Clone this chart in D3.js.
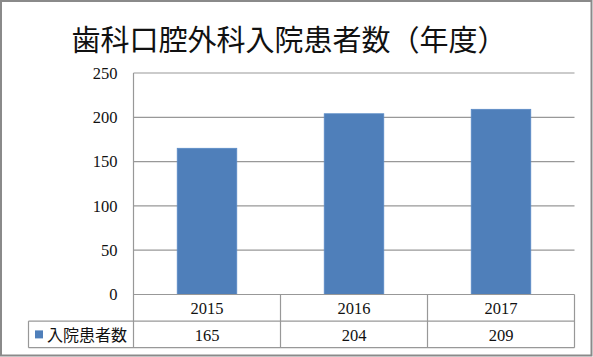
<!DOCTYPE html>
<html><head><meta charset="utf-8">
<script src="https://cdn.jsdelivr.net/npm/d3@7"></script>
<style>html,body{margin:0;padding:0;background:#fff;}svg{display:block;}
.serif{font-family:"Liberation Serif","Times New Roman","DejaVu Serif",serif;}
.sans{font-family:"Noto Sans CJK JP","Noto Sans",sans-serif;}
</style>
</head><body>
<svg id="chart" width="593" height="357"></svg>
<script>
const title = "歯科口腔外科入院患者数（年度）";
const categories = ["2015", "2016", "2017"];
const seriesName = "入院患者数";
const values = [165, 204, 209];
const yTicks = [0, 50, 100, 150, 200, 250];

const svg = d3.select("#chart");
const W = 593, H = 357;
const plot = {left: 133.5, right: 574.5, top: 73, bottom: 294.5};
const rowH = 26.6;
const tableLeft = 28.5;
const gridColor = "#989898";
const serifFam = '"Liberation Serif","Times New Roman","DejaVu Serif",serif';

svg.append("rect").attr("x", 0).attr("y", 0).attr("width", W).attr("height", H).attr("fill", "#fff");
svg.append("rect").attr("x", 1).attr("y", 1).attr("width", 590.5).attr("height", 354.5)
  .attr("fill", "none").attr("stroke", "#8a8a8a").attr("stroke-width", 2);

svg.append("text").attr("class", "sans").attr("x", 289).attr("y", 38).attr("text-anchor", "middle")
  .attr("dominant-baseline", "central").style("font-size", "29px")
  .attr("fill", "#111").text(title);

const x = d3.scaleBand().domain(categories).range([plot.left, plot.right]).padding(0);
const y = d3.scaleLinear().domain([0, 250]).range([plot.bottom, plot.top]);

// gridlines
svg.append("g").selectAll("line").data(yTicks.filter(t => t > 0)).join("line")
  .attr("x1", plot.left).attr("x2", plot.right)
  .attr("y1", d => y(d)).attr("y2", d => y(d))
  .attr("stroke", gridColor).attr("stroke-width", 1.2);

// y axis labels
const yAxis = d3.axisLeft(y).tickValues(yTicks).tickSize(0).tickPadding(16);
const gy = svg.append("g").attr("transform", `translate(${plot.left},0)`).call(yAxis);
gy.attr("font-family", null).attr("font-size", null);
gy.select(".domain").remove();
gy.selectAll("text").style("font-family", serifFam).style("font-size", "16.5px").attr("fill", "#111");

// bars
const barW = x.bandwidth() * 0.405;
svg.append("g").selectAll("rect").data(values).join("rect")
  .attr("x", (d, i) => x(categories[i]) + (x.bandwidth() - barW) / 2)
  .attr("width", barW)
  .attr("y", d => y(d)).attr("height", d => y(0) - y(d))
  .attr("fill", "#4f7fba").attr("stroke", "#5a8bc6").attr("stroke-width", 0.8);

// table lines
const tg = svg.append("g").attr("stroke", gridColor).attr("stroke-width", 1.2);
tg.append("line").attr("x1", plot.left).attr("x2", plot.right).attr("y1", plot.bottom).attr("y2", plot.bottom);
tg.append("line").attr("x1", tableLeft).attr("x2", plot.right).attr("y1", plot.bottom + rowH).attr("y2", plot.bottom + rowH);
tg.append("line").attr("x1", tableLeft).attr("x2", plot.right).attr("y1", plot.bottom + 2 * rowH).attr("y2", plot.bottom + 2 * rowH);
tg.append("line").attr("x1", plot.left).attr("x2", plot.left).attr("y1", plot.top).attr("y2", plot.bottom + 2 * rowH);
tg.append("line").attr("x1", tableLeft).attr("x2", tableLeft).attr("y1", plot.bottom + rowH).attr("y2", plot.bottom + 2 * rowH);
tg.selectAll(".sep").data(categories.slice(1).concat(["__end"])).join("line")
  .attr("x1", d => d === "__end" ? plot.right : x(d)).attr("x2", d => d === "__end" ? plot.right : x(d))
  .attr("y1", plot.bottom).attr("y2", plot.bottom + 2 * rowH);

// category labels
svg.append("g").selectAll("text").data(categories).join("text")
  .attr("x", d => x(d) + x.bandwidth() / 2).attr("y", plot.bottom + rowH / 2 + 1)
  .attr("text-anchor", "middle").attr("dominant-baseline", "central")
  .style("font-family", serifFam).style("font-size", "16.5px").attr("fill", "#111").text(d => d);

// values
svg.append("g").selectAll("text").data(values).join("text")
  .attr("x", (d, i) => x(categories[i]) + x.bandwidth() / 2).attr("y", plot.bottom + rowH * 1.5 + 1)
  .attr("text-anchor", "middle").attr("dominant-baseline", "central")
  .style("font-family", serifFam).style("font-size", "16.5px").attr("fill", "#111").text(d => d);

// legend key
svg.append("rect").attr("x", 35).attr("y", plot.bottom + rowH * 1.5 - 4).attr("width", 8).attr("height", 8)
  .attr("fill", "#4f7fba");
svg.append("text").attr("class", "sans").attr("x", 47).attr("y", plot.bottom + rowH * 1.5)
  .attr("dominant-baseline", "central").style("font-size", "16px")
  .attr("fill", "#111").text(seriesName);
</script>
</body></html>
